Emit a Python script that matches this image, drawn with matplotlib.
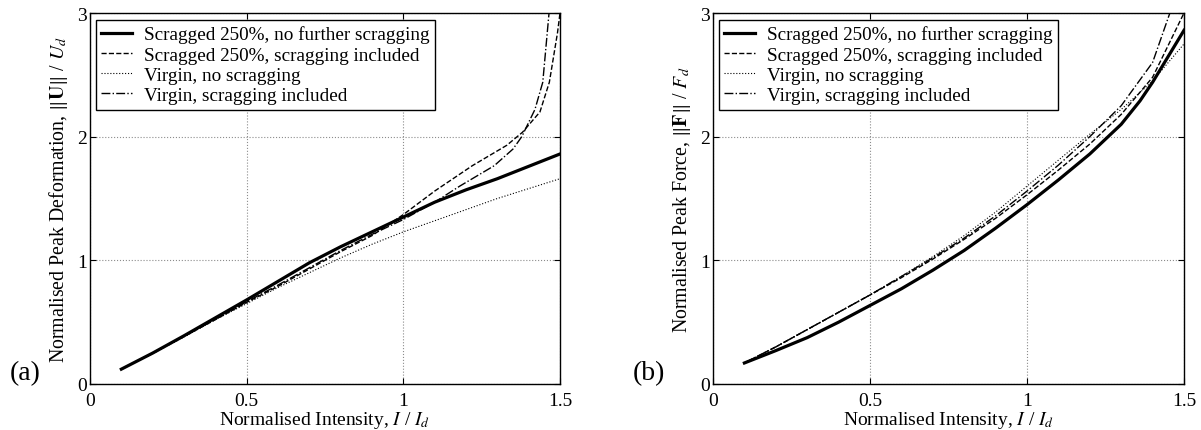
import matplotlib
matplotlib.use('Agg')
import matplotlib.pyplot as plt

plt.rcParams['font.family'] = ['Liberation Serif', 'DejaVu Serif']
plt.rcParams['mathtext.fontset'] = 'stix'

labels = ['Scragged 250%, no further scragging',
          'Scragged 250%, scragging included',
          'Virgin, no scragging',
          'Virgin, scragging included']

# (a) normalised peak deformation
xa = [0.1, 0.2, 0.3, 0.4, 0.5, 0.6, 0.7, 0.8, 0.9, 1.0, 1.1, 1.2, 1.3, 1.4, 1.5]
ua_scr = [0.12, 0.25, 0.39, 0.535, 0.68, 0.83, 0.98, 1.11, 1.23, 1.35, 1.47, 1.57, 1.66, 1.76, 1.86]
ua_vir = [0.12, 0.245, 0.38, 0.52, 0.65, 0.78, 0.9, 1.02, 1.13, 1.23, 1.32, 1.41, 1.5, 1.58, 1.66]

xa_scr_inc = [0.1, 0.2, 0.3, 0.4, 0.5, 0.6, 0.7, 0.8, 0.9, 1.0, 1.1, 1.22, 1.33, 1.38, 1.436, 1.466, 1.492, 1.5]
ua_scr_inc = [0.12, 0.25, 0.385, 0.52, 0.66, 0.79, 0.93, 1.07, 1.2, 1.37, 1.56, 1.765, 1.93, 2.035, 2.2, 2.44, 2.84, 3.0]
xa_vir_inc = [0.1, 0.2, 0.3, 0.4, 0.5, 0.6, 0.7, 0.8, 0.9, 1.0, 1.1, 1.18, 1.29, 1.35, 1.378, 1.42, 1.445, 1.465]
ua_vir_inc = [0.12, 0.25, 0.385, 0.525, 0.665, 0.8, 0.94, 1.08, 1.21, 1.33, 1.47, 1.6, 1.765, 1.9, 2.0, 2.22, 2.44, 3.0]

# (b) normalised peak force
xb = [0.1, 0.2, 0.3, 0.4, 0.5, 0.6, 0.7, 0.8, 0.9, 1.0, 1.1, 1.2, 1.3, 1.36, 1.4, 1.5]
fb_scr = [0.17, 0.27, 0.375, 0.5, 0.635, 0.77, 0.92, 1.08, 1.26, 1.45, 1.65, 1.86, 2.1, 2.29, 2.44, 2.86]
xb2 = [0.1, 0.2, 0.3, 0.4, 0.5, 0.6, 0.7, 0.8, 0.9, 1.0, 1.1, 1.2, 1.3, 1.4, 1.5]
fb_scr_inc = [0.17, 0.3, 0.44, 0.58, 0.72, 0.86, 1.01, 1.17, 1.34, 1.53, 1.73, 1.94, 2.18, 2.48, 3.0]
fb_vir = [0.17, 0.3, 0.44, 0.58, 0.72, 0.87, 1.03, 1.2, 1.39, 1.6, 1.81, 2.02, 2.22, 2.45, 2.75]
xb_vir_inc = [0.1, 0.2, 0.3, 0.4, 0.5, 0.6, 0.7, 0.8, 0.9, 1.0, 1.1, 1.2, 1.3, 1.4, 1.455]
fb_vir_inc = [0.17, 0.3, 0.44, 0.58, 0.72, 0.87, 1.02, 1.18, 1.36, 1.56, 1.77, 2.0, 2.25, 2.6, 3.0]

fig = plt.figure(figsize=(12.01, 4.31), dpi=100)
ax1 = fig.add_axes([90/1201, 46/431, 470/1201, 371/431])
ax2 = fig.add_axes([713/1201, 46/431, 471/1201, 371/431])

ax1.plot(xa, ua_scr, 'k-', lw=2.3, label=labels[0])
ax1.plot(xa_scr_inc, ua_scr_inc, 'k--', lw=1.0, label=labels[1])
ax1.plot(xa, ua_vir, 'k:', lw=0.8, label=labels[2])
ax1.plot(xa_vir_inc, ua_vir_inc, 'k-.', lw=1.0, label=labels[3])

ax2.plot(xb, fb_scr, 'k-', lw=2.3, label=labels[0])
ax2.plot(xb2, fb_scr_inc, 'k--', lw=1.0, label=labels[1])
ax2.plot(xb2, fb_vir, 'k:', lw=0.8, label=labels[2])
ax2.plot(xb_vir_inc, fb_vir_inc, 'k-.', lw=1.0, label=labels[3])

ax1.set_ylabel(r'Normalised Peak Deformation, $\Vert\mathbf{U}\Vert$ / $U_d$', fontsize=14.3, labelpad=5)
ax2.set_ylabel(r'Normalised Peak Force, $\Vert\mathbf{F}\Vert$ / $F_d$', fontsize=14.3, labelpad=5)

for ax, tag in [(ax1, '(a)'), (ax2, '(b)')]:
    ax.set_xlim(0, 1.5)
    ax.set_ylim(0, 3)
    ax.set_xticks([0, 0.5, 1, 1.5])
    ax.set_xticklabels(['0', '0.5', '1', '1.5'])
    ax.set_yticks([0, 1, 2, 3])
    ax.tick_params(direction='in', top=True, right=True, labelsize=14, length=4, pad=2)
    ax.tick_params(axis='x', pad=6)
    ax.grid(True, linestyle=':', color='0.55', lw=0.8)
    ax.set_xlabel(r'Normalised Intensity, $I$ / $I_d$', fontsize=14, labelpad=0)
    for s in ax.spines.values():
        s.set_linewidth(1.0)
    ax.text(-0.137, 0.03, tag, transform=ax.transAxes, fontsize=20, ha='center', va='center')
    leg = ax.legend(loc='upper left', bbox_to_anchor=(0.012, 0.982), fontsize=13.8,
                    handlelength=1.6, labelspacing=0.15, borderpad=0.3, handletextpad=0.6,
                    fancybox=False, framealpha=1, edgecolor='k', borderaxespad=0)
    leg.get_frame().set_linewidth(1.0)

fig.savefig('out.png', dpi=100)
